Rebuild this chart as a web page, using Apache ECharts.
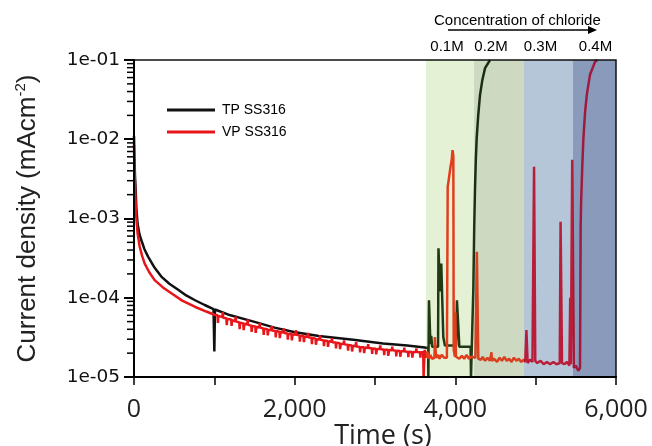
<!DOCTYPE html>
<html>
<head>
<meta charset="utf-8">
<script src="https://cdn.jsdelivr.net/npm/echarts@6/dist/echarts.min.js"></script>
<style>
  html, body { margin: 0; padding: 0; background: #fff; }
  #chart { width: 652px; height: 446px; }
</style>
</head>
<body>
<div id="chart"></div>
<script>
// chloride concentration bands (time in s)
const bandNames = ['0.1M', '0.2M', '0.3M', '0.4M'];
const bandEdges = [3635, 4233, 4855, 5465, 6000];

const xTicks = [0, 2000, 4000, 6000];

// TP SS316: [time, current density]
const tpData = [
    [0, 1.1e-2], [5, 6e-3], [12, 3.5e-3], [20, 2.4e-3], [30, 1.3e-3], [45, 8.5e-4],
    [70, 6.2e-4], [95, 5.2e-4], [130, 4.1e-4], [175, 3.3e-4], [250, 2.45e-4], [340, 1.85e-4],
    [440, 1.5e-4], [550, 1.26e-4], [650, 1.07e-4], [760, 9.3e-5], [880, 8.1e-5], [990, 7.2e-5],
    [1000, 2.1e-5], [1008, 7.1e-5], [1200, 6.0e-5], [1490, 5.0e-5], [1750, 4.2e-5], [1990, 3.7e-5],
    [2300, 3.3e-5], [2730, 2.95e-5], [3100, 2.65e-5], [3400, 2.5e-5], [3620, 2.35e-5], [3640, 2.3e-5],
    [3662, 2.3e-5], [3664, 1e-5], [3668, 1e-5], [3672, 9.3e-5], [3680, 9.3e-5], [3690, 2.6e-5],
    [3700, 3.3e-5], [3712, 2.4e-5], [3785, 2.4e-5], [3790, 4.2e-4], [3800, 4.2e-4], [3810, 1.2e-4],
    [3825, 2.7e-4], [3835, 2.7e-4], [3850, 3.2e-5], [3870, 2.5e-5], [4010, 2.5e-5], [4020, 9.3e-5],
    [4040, 9.3e-5], [4050, 2.4e-5], [4190, 2.4e-5], [4195, 1e-5], [4215, 1e-5], [4224, 1.3e-4],
    [4235, 8e-4], [4245, 2.4e-3], [4255, 5.5e-3], [4266, 1.04e-2], [4285, 2.0e-2], [4307, 3.6e-2],
    [4335, 5.5e-2], [4370, 7.9e-2], [4432, 1.0e-1]
];

// VP SS316: [time, current density]
const vpData = [
    [0, 8.5e-3], [4, 5e-3], [10, 3e-3], [18, 1.8e-3], [28, 1.05e-3], [45, 6.5e-4], [71, 4.4e-4],
    [100, 3.4e-4], [133, 2.7e-4], [190, 2.1e-4], [257, 1.67e-4], [360, 1.35e-4], [465, 1.14e-4],
    [600, 9.2e-5], [756, 7.7e-5], [900, 6.7e-5], [1000, 6.1e-5],
    [1040, 6.0e-5], [1045, 4.8e-5], [1050, 5.9e-5], [1100, 5.7e-5], [1105, 6.6e-5], [1110, 5.6e-5],
    [1150, 5.5e-5], [1155, 4.5e-5], [1160, 5.4e-5], [1210, 5.3e-5], [1215, 4.4e-5], [1220, 5.2e-5],
    [1260, 5.05e-5], [1265, 5.8e-5], [1270, 5.0e-5], [1310, 4.9e-5], [1315, 4.0e-5], [1320, 4.85e-5],
    [1360, 4.75e-5], [1365, 3.9e-5], [1375, 4.7e-5], [1410, 4.6e-5], [1415, 5.3e-5], [1420, 4.55e-5],
    [1460, 4.45e-5], [1465, 3.7e-5], [1470, 4.4e-5], [1510, 4.35e-5], [1515, 3.6e-5], [1525, 4.3e-5],
    [1560, 4.2e-5], [1565, 4.8e-5], [1570, 4.2e-5], [1610, 4.1e-5], [1615, 3.4e-5], [1620, 4.05e-5],
    [1660, 4.0e-5], [1665, 3.35e-5], [1675, 3.95e-5], [1710, 3.9e-5], [1715, 4.4e-5], [1720, 3.85e-5],
    [1760, 3.8e-5], [1765, 3.15e-5], [1770, 3.8e-5], [1810, 3.72e-5], [1815, 3.1e-5], [1825, 3.7e-5],
    [1860, 3.65e-5], [1865, 4.1e-5], [1870, 3.6e-5], [1910, 3.55e-5], [1915, 2.95e-5], [1920, 3.5e-5],
    [1960, 3.5e-5], [1965, 2.9e-5], [1975, 3.45e-5], [2010, 3.42e-5], [2015, 3.9e-5], [2020, 3.4e-5],
    [2060, 3.35e-5], [2065, 2.8e-5], [2070, 3.3e-5], [2110, 3.28e-5], [2115, 2.75e-5], [2125, 3.25e-5],
    [2160, 3.2e-5], [2165, 3.6e-5], [2170, 3.18e-5], [2210, 3.12e-5], [2215, 2.6e-5], [2220, 3.1e-5],
    [2260, 3.05e-5], [2265, 2.55e-5], [2275, 3.0e-5], [2310, 2.98e-5], [2315, 3.35e-5], [2320, 2.95e-5],
    [2360, 2.9e-5], [2365, 2.45e-5], [2370, 2.88e-5], [2410, 2.85e-5], [2415, 2.4e-5], [2425, 2.82e-5],
    [2460, 2.78e-5], [2465, 3.1e-5], [2470, 2.75e-5], [2510, 2.72e-5], [2515, 2.3e-5], [2520, 2.7e-5],
    [2560, 2.66e-5], [2565, 2.25e-5], [2575, 2.63e-5], [2610, 2.6e-5], [2615, 2.9e-5], [2620, 2.58e-5],
    [2660, 2.55e-5], [2665, 2.15e-5], [2670, 2.53e-5], [2710, 2.5e-5], [2715, 2.1e-5], [2725, 2.48e-5],
    [2760, 2.45e-5], [2765, 2.75e-5], [2770, 2.43e-5], [2810, 2.4e-5], [2815, 2.05e-5], [2820, 2.38e-5],
    [2860, 2.37e-5], [2865, 2.0e-5], [2875, 2.35e-5], [2910, 2.33e-5], [2915, 2.6e-5], [2920, 2.32e-5],
    [2960, 2.3e-5], [2965, 1.95e-5], [2970, 2.29e-5], [3010, 2.28e-5], [3015, 1.93e-5], [3025, 2.26e-5],
    [3060, 2.25e-5], [3065, 2.5e-5], [3070, 2.24e-5], [3110, 2.22e-5], [3115, 1.88e-5], [3120, 2.21e-5],
    [3160, 2.2e-5], [3165, 1.85e-5], [3175, 2.19e-5], [3210, 2.18e-5], [3215, 2.42e-5], [3220, 2.17e-5],
    [3260, 2.15e-5], [3265, 1.82e-5], [3270, 2.14e-5], [3310, 2.13e-5], [3315, 1.8e-5], [3325, 2.12e-5],
    [3360, 2.11e-5], [3365, 2.35e-5], [3370, 2.1e-5], [3410, 2.09e-5], [3415, 1.78e-5], [3420, 2.08e-5],
    [3460, 2.07e-5], [3465, 1.76e-5], [3475, 2.07e-5], [3510, 2.06e-5], [3515, 2.3e-5], [3520, 2.06e-5],
    [3560, 2.05e-5], [3565, 1.75e-5], [3570, 2.05e-5], [3600, 2.05e-5], [3605, 1e-5], [3612, 1e-5],
    [3618, 2.2e-5], [3630, 1.75e-5], [3650, 2.1e-5], [3670, 1.7e-5], [3690, 1.9e-5], [3710, 1.7e-5],
    [3740, 1.75e-5], [3745, 3.2e-5], [3755, 3.2e-5], [3760, 1.75e-5], [3790, 1.9e-5], [3800, 1.7e-5],
    [3830, 1.9e-5], [3860, 1.75e-5], [3895, 1.75e-5], [3905, 2.5e-3], [3920, 3.2e-3], [3940, 4.5e-3],
    [3955, 5.5e-3], [3965, 7.3e-3], [3975, 6.2e-3], [3980, 2.2e-5], [3995, 1.8e-5], [4000, 6.5e-5],
    [4008, 1.8e-5], [4030, 1.9e-5], [4050, 1.7e-5], [4080, 1.85e-5], [4110, 1.7e-5], [4140, 1.9e-5],
    [4170, 1.7e-5], [4200, 1.8e-5], [4250, 1.75e-5], [4262, 1.75e-5], [4268, 3.8e-4], [4280, 3.8e-4],
    [4286, 1.7e-5], [4320, 1.65e-5], [4340, 1.8e-5], [4370, 1.6e-5], [4400, 1.75e-5], [4430, 1.6e-5],
    [4450, 2.05e-5], [4455, 1.6e-5], [4480, 1.7e-5], [4520, 1.55e-5], [4550, 1.75e-5], [4580, 1.6e-5],
    [4610, 1.8e-5], [4640, 1.6e-5], [4670, 1.7e-5], [4700, 1.55e-5], [4730, 1.75e-5], [4760, 1.6e-5],
    [4790, 1.7e-5], [4820, 1.55e-5], [4850, 1.65e-5], [4870, 1.55e-5], [4880, 1.55e-5], [4885, 3.9e-5],
    [4895, 3.9e-5], [4900, 1.5e-5], [4930, 1.65e-5], [4960, 1.55e-5], [4975, 1.6e-5], [4980, 4.5e-3],
    [4990, 4.5e-3], [4995, 1.6e-5], [5020, 1.5e-5], [5060, 1.6e-5], [5100, 1.45e-5], [5140, 1.55e-5],
    [5180, 1.45e-5], [5220, 1.55e-5], [5260, 1.45e-5], [5300, 1.5e-5], [5310, 9.1e-4], [5322, 9.1e-4],
    [5328, 1.5e-5], [5360, 1.45e-5], [5390, 1.55e-5], [5420, 1.4e-5], [5430, 1e-4], [5438, 1.45e-5],
    [5450, 1.5e-5], [5455, 5.5e-3], [5468, 5.5e-3], [5475, 1.3e-5], [5500, 1.4e-5], [5530, 1.2e-5],
    [5552, 1.3e-5], [5560, 8e-4], [5565, 1.5e-3], [5580, 4.5e-3], [5594, 1.02e-2], [5615, 2.2e-2],
    [5636, 3.6e-2], [5676, 6.5e-2], [5739, 9.5e-2], [5768, 1.0e-1]
];

const bandColors = ['#e5f1d5', '#cdd9c1', '#b5c6d8', '#8a9aba'];
const tpColors = ['#111111', '#1f3a14', '#1a2e12', '#1a2e12', '#1a2e12'];
const vpColors = ['#e8161b', '#e23e1c', '#d8401f', '#b81e3a', '#9e1a3e'];

// log-axis minor ticks 2..9 per decade
const minorTicks = [];
for (let e = -5; e < -1; e++) {
    for (let m = 2; m <= 9; m++) minorTicks.push(m * Math.pow(10, e));
}

function bandPieces(colors) {
    const pieces = [{ lt: bandEdges[0], color: colors[0] }];
    for (let i = 0; i < bandNames.length; i++) {
        const p = { gte: bandEdges[i], color: colors[i + 1] };
        if (i < bandNames.length - 1) p.lt = bandEdges[i + 1];
        pieces.push(p);
    }
    return pieces;
}

const labelOffsets = [[-3, 0], [-8, 0], [-8, 0], [1, 0]];

const arrowGraphics = [
    { type: 'line', shape: { x1: 448, y1: 30, x2: 590, y2: 30 }, style: { stroke: '#000', lineWidth: 1.5 } },
    { type: 'polygon', shape: { points: [[588, 26], [597, 30], [588, 34]] }, style: { fill: '#000' } }
];

const chart = echarts.init(document.getElementById('chart'));

chart.setOption({
    animation: false,
    title: {
        text: 'Concentration of chloride',
        left: 429,
        top: 8,
        textStyle: { fontFamily: 'Liberation Sans', fontSize: 15, fontWeight: 'normal', color: '#000' }
    },
    graphic: arrowGraphics,
    legend: {
        orient: 'vertical',
        left: 162,
        top: 98,
        icon: 'rect',
        itemWidth: 48,
        itemHeight: 3,
        itemGap: 8,
        textStyle: { fontFamily: 'Liberation Sans', fontSize: 14, color: '#000', padding: [0, 0, 0, 2] },
        data: [
            { name: 'TP SS316', itemStyle: { color: '#111' } },
            { name: 'VP SS316', itemStyle: { color: '#e8161b' } }
        ]
    },
    grid: {
        left: 134, right: 36, top: 60, bottom: 69,
        outerBoundsMode: 'none',
        containLabel: false,
        show: true, z: 3, borderColor: '#111', borderWidth: 1.5, backgroundColor: 'transparent'
    },
    visualMap: [
        { type: 'piecewise', show: false, seriesIndex: 0, dimension: 0, pieces: bandPieces(tpColors) },
        { type: 'piecewise', show: false, seriesIndex: 1, dimension: 0, pieces: bandPieces(vpColors) }
    ],
    xAxis: {
        type: 'value',
        min: 0,
        max: 6000,
        interval: 1000,
        z: 4,
        name: 'Time (s)',
        nameLocation: 'middle',
        nameGap: 46,
        nameMoveOverlap: false,
        nameTextStyle: { fontFamily: 'Open Sans', fontSize: 27, color: '#222', padding: [0, 0, 0, 16] },
        axisLine: { show: true, lineStyle: { color: '#000', width: 2 } },
        axisTick: { show: true, inside: false, length: 8, lineStyle: { color: '#000', width: 1.5 } },
        axisLabel: {
            fontFamily: 'Open Sans', fontSize: 25, color: '#222', margin: 20,
            formatter: v => xTicks.includes(v) ? v.toLocaleString('en-US') : ''
        },
        splitLine: { show: false }
    },
    yAxis: {
        type: 'log',
        logBase: 10,
        min: 1e-5,
        max: 1e-1,
        z: 4,
        name: '{a|Current density (mAcm}{s|-2}{a|)}',
        nameLocation: 'middle',
        nameGap: 92,
        nameTextStyle: {
            rich: {
                a: { fontFamily: 'Liberation Sans', fontSize: 26, color: '#222' },
                s: { fontFamily: 'Liberation Sans', fontSize: 15, color: '#222', padding: [0, 0, 14, 0] }
            }
        },
        axisLine: { show: true, lineStyle: { color: '#000', width: 2 } },
        axisTick: { show: true, inside: false, length: 10, lineStyle: { color: '#000', width: 2 } },
        axisLabel: {
            fontFamily: 'DejaVu Sans', fontSize: 18.5, color: '#111', margin: 14,
            formatter: v => {
                const e = Math.round(Math.log10(v));
                return '1e' + (e < 0 ? '-' : '+') + String(Math.abs(e)).padStart(2, '0');
            }
        },
        splitLine: { show: false }
    },
    series: [
        {
            name: 'TP SS316',
            type: 'line',
            data: tpData,
            symbol: 'none',
            lineStyle: { width: 2.5 },
            z: 2,
            markArea: {
                silent: true,
                z: 1,
                label: {
                    show: true, position: 'top', distance: 6,
                    fontFamily: 'Liberation Sans', fontSize: 15, color: '#000'
                },
                data: bandNames.map((name, i) => [
                    {
                        name: name, xAxis: bandEdges[i],
                        itemStyle: { color: bandColors[i], opacity: 1 },
                        label: { offset: labelOffsets[i] }
                    },
                    { xAxis: bandEdges[i + 1] }
                ])
            }
        },
        {
            name: 'VP SS316',
            type: 'line',
            data: vpData,
            symbol: 'none',
            lineStyle: { width: 2.5 },
            z: 2
        }
    ]
});

// minor ticks of the log axis, placed through the axis scale
const x0 = chart.convertToPixel({ xAxisIndex: 0 }, 0);
const minorGraphics = minorTicks.map(v => {
    const y = chart.convertToPixel({ yAxisIndex: 0 }, v);
    return {
        type: 'line', z: 10,
        shape: { x1: x0 - 7, y1: y, x2: x0, y2: y },
        style: { stroke: '#000', lineWidth: 1.5 }
    };
});
chart.setOption({ graphic: arrowGraphics.concat(minorGraphics) });
</script>
</body>
</html>
